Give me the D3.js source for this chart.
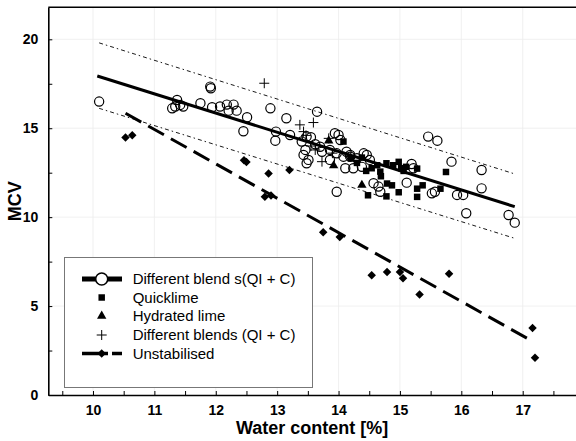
<!DOCTYPE html>
<html>
<head>
<meta charset="utf-8">
<script src="https://cdn.jsdelivr.net/npm/d3@7"></script>
<style>
  body { margin: 0; background: #fff; }
  svg { display: block; font-family: "Liberation Sans", Arial, sans-serif; }
</style>
</head>
<body>
<main></main>
<script>
// open circles: Different blend s(QI + C)
const blendCircles = [
  [10.1, 16.5],
  [11.29, 16.12], [11.34, 16.22], [11.37, 16.59], [11.42, 16.31], [11.47, 16.22],
  [11.75, 16.41], [11.91, 17.34], [11.92, 17.25], [11.94, 16.18], [12.07, 16.22],
  [12.18, 16.33], [12.29, 16.33], [12.21, 15.99], [12.34, 15.99], [12.51, 15.62],
  [12.45, 14.83], [12.89, 16.12], [13.15, 15.56], [13.65, 15.93], [12.98, 14.81],
  [12.97, 14.3], [13.21, 14.62], [13.4, 14.25], [13.48, 14.53], [13.55, 14.5],
  [13.46, 13.78], [13.43, 13.5], [13.51, 13.22], [13.48, 13.03], [13.73, 13.68],
  [13.7, 13.96], [13.86, 13.22], [13.62, 14.1], [14.0, 14.62], [14.03, 14.34],
  [13.94, 14.72], [14.13, 13.68], [14.19, 13.4], [13.97, 11.43], [13.86, 13.78],
  [13.97, 13.59], [14.08, 13.4], [14.19, 13.5], [14.3, 13.31], [14.41, 13.59],
  [14.51, 13.22], [14.24, 12.75], [14.11, 12.75], [14.38, 12.83], [14.46, 13.5],
  [14.57, 11.91], [14.65, 11.72], [14.68, 11.43], [15.11, 11.94], [15.19, 12.99],
  [15.22, 12.75], [15.46, 14.53], [15.61, 14.3], [15.84, 13.12], [15.52, 11.34],
  [15.57, 11.43], [15.93, 11.25], [16.03, 11.25], [16.33, 12.65], [16.33, 11.62],
  [16.08, 10.22], [16.77, 10.12], [16.87, 9.69]
];

// filled squares: Quicklime
const quicklime = [
  [14.08, 14.25], [14.2, 13.3], [14.3, 13.05], [14.38, 13.35], [14.45, 12.6],
  [14.54, 12.75], [14.63, 12.92], [14.68, 12.56], [14.69, 12.3], [14.78, 13.03],
  [14.89, 12.92], [14.98, 13.11], [15.02, 12.75], [15.1, 12.83], [15.06, 12.6],
  [15.28, 12.73], [15.75, 12.54], [14.48, 11.23], [14.79, 11.89], [14.87, 11.79],
  [14.98, 11.4], [14.78, 11.17], [15.28, 11.6], [15.28, 11.14], [15.37, 11.79],
  [15.66, 11.6]
];

// filled triangles: Hydrated lime
const hydratedLime = [
  [13.84, 14.3], [13.92, 12.9], [14.38, 11.8]
];

// plus signs: Different blends (QI + C)
const blendPlus = [
  [12.79, 17.53], [13.37, 15.19], [13.59, 15.32], [13.43, 14.81], [13.47, 14.6],
  [13.84, 14.43], [13.62, 13.78], [13.73, 13.12], [13.9, 13.6], [13.55, 14.0]
];

// diamonds: Unstabilised
const unstabilised = [
  [10.53, 14.48], [10.64, 14.6], [12.46, 13.2], [12.5, 13.1], [12.86, 12.45],
  [13.2, 12.65], [12.8, 11.15], [12.9, 11.22], [13.75, 9.15], [14.02, 8.88],
  [14.54, 6.74], [14.79, 6.92], [15.0, 6.92], [15.05, 6.56], [15.32, 5.65],
  [15.8, 6.82], [17.16, 3.77], [17.2, 2.1]
];

// fitted lines and prediction band
const fitStabilised = [[10.07, 17.94], [16.87, 10.59]];
const bandUpper = [[10.1, 19.8], [16.87, 12.43]];
const bandLower = [[10.1, 16.12], [16.87, 8.81]];
const fitUnstabilised = [[10.53, 15.84], [17.17, 3.0]];

const xMajor = [10, 11, 12, 13, 14, 15, 16, 17];
const xTicks = [9.5, 10, 10.5, 11, 11.5, 12, 12.5, 13, 13.5, 14, 14.5, 15, 15.5, 16, 16.5, 17, 17.5];
const yMajor = [0, 5, 10, 15, 20];
const yTicks = [0, 2.5, 5, 7.5, 10, 12.5, 15, 17.5, 20];

const legendLabels = [
  'Different blend s(QI + C)',
  'Quicklime',
  'Hydrated lime',
  'Different blends (QI + C)',
  'Unstabilised'
];

function draw_chart() {
  const width = 576;
  const height = 441;
  const left = 48.3, right = 576, top = 7.3, bottom = 395;

  let svg = d3.select('main')
    .append('svg')
    .attr('width', width)
    .attr('height', height);

  const x = d3.scaleLinear().domain([9.272, 17.868]).range([left, right]);
  const y = d3.scaleLinear().domain([0, 21.8]).range([bottom, top]);

  // faint grid
  svg.append('g')
    .selectAll('line')
    .data(xMajor)
    .enter()
    .append('line')
    .attr('x1', function (d) { return x(d); })
    .attr('x2', function (d) { return x(d); })
    .attr('y1', top)
    .attr('y2', bottom)
    .attr('stroke', '#ececec')
    .attr('stroke-width', 0.8);

  svg.append('g')
    .selectAll('line')
    .data(yMajor.slice(1))
    .enter()
    .append('line')
    .attr('x1', left)
    .attr('x2', right)
    .attr('y1', function (d) { return y(d); })
    .attr('y2', function (d) { return y(d); })
    .attr('stroke', '#ececec')
    .attr('stroke-width', 0.8);

  // axes
  let xAxis = svg.append('g')
    .attr('transform', 'translate(0,' + bottom + ')')
    .call(d3.axisBottom(x)
      .tickValues(xTicks)
      .tickSizeInner(-4)
      .tickSizeOuter(0)
      .tickPadding(10)
      .tickFormat(function (d) { return xMajor.indexOf(d) >= 0 ? d : ''; }));

  let yAxis = svg.append('g')
    .attr('transform', 'translate(' + left + ',0)')
    .call(d3.axisLeft(y)
      .tickValues(yTicks)
      .tickSizeInner(-4)
      .tickSizeOuter(0)
      .tickPadding(10)
      .tickFormat(function (d) { return yMajor.indexOf(d) >= 0 ? d : ''; }));

  [xAxis, yAxis].forEach(function (a) {
    a.select('.domain').attr('stroke', '#000').attr('stroke-width', 1.6);
    a.selectAll('.tick line').attr('stroke', '#000').attr('stroke-width', 1);
    a.selectAll('.tick text')
      .attr('fill', '#000')
      .style('font-size', '14px')
      .style('font-weight', 'bold')
      .style('font-family', '"Liberation Sans", Arial, sans-serif');
  });

  // top frame
  svg.append('line')
    .attr('x1', left).attr('x2', right)
    .attr('y1', top).attr('y2', top)
    .attr('stroke', '#000')
    .attr('stroke-width', 1.4);

  // axis titles
  svg.append('text')
    .attr('x', (left + right) / 2)
    .attr('y', 434)
    .attr('text-anchor', 'middle')
    .style('font-size', '18px')
    .style('font-weight', 'bold')
    .text('Water content [%]');

  svg.append('text')
    .attr('transform', 'translate(21,' + ((top + bottom) / 2) + ') rotate(-90)')
    .attr('text-anchor', 'middle')
    .style('font-size', '18px')
    .style('font-weight', 'bold')
    .text('MCV');

  const line = d3.line()
    .x(function (d) { return x(d[0]); })
    .y(function (d) { return y(d[1]); });

  // lines
  [bandUpper, bandLower].forEach(function (b) {
    svg.append('path')
      .datum(b)
      .attr('d', line)
      .attr('fill', 'none')
      .attr('stroke', '#000')
      .attr('stroke-width', 0.9)
      .attr('stroke-dasharray', '4,3,1.5,3');
  });

  svg.append('path')
    .datum(fitStabilised)
    .attr('d', line)
    .attr('fill', 'none')
    .attr('stroke', '#000')
    .attr('stroke-width', 3);

  svg.append('path')
    .datum(fitUnstabilised)
    .attr('d', line)
    .attr('fill', 'none')
    .attr('stroke', '#000')
    .attr('stroke-width', 3)
    .attr('stroke-dasharray', '18,8');

  // markers
  svg.append('g')
    .selectAll('circle')
    .data(blendCircles)
    .enter()
    .append('circle')
    .attr('cx', function (d) { return x(d[0]); })
    .attr('cy', function (d) { return y(d[1]); })
    .attr('r', 4.6)
    .attr('fill', 'none')
    .attr('stroke', '#000')
    .attr('stroke-width', 1.2);

  const square = d3.symbol().type(d3.symbolSquare).size(42);
  const triangle = d3.symbol().type(d3.symbolTriangle).size(38);
  const diamond = d3.symbol().type(d3.symbolSquare).size(36);
  const plus = 'M-5,0H5M0,-5V5';

  svg.append('g')
    .selectAll('path')
    .data(quicklime)
    .enter()
    .append('path')
    .attr('d', square)
    .attr('transform', function (d) {
      return 'translate(' + x(d[0]) + ',' + y(d[1]) + ')';
    })
    .attr('fill', '#000');

  svg.append('g')
    .selectAll('path')
    .data(hydratedLime)
    .enter()
    .append('path')
    .attr('d', triangle)
    .attr('transform', function (d) {
      return 'translate(' + x(d[0]) + ',' + y(d[1]) + ')';
    })
    .attr('fill', '#000');

  svg.append('g')
    .selectAll('path')
    .data(blendPlus)
    .enter()
    .append('path')
    .attr('d', plus)
    .attr('transform', function (d) {
      return 'translate(' + x(d[0]) + ',' + y(d[1]) + ')';
    })
    .attr('fill', 'none')
    .attr('stroke', '#000')
    .attr('stroke-width', 1);

  svg.append('g')
    .selectAll('path')
    .data(unstabilised)
    .enter()
    .append('path')
    .attr('d', diamond)
    .attr('transform', function (d) {
      return 'translate(' + x(d[0]) + ',' + y(d[1]) + ') rotate(45)';
    })
    .attr('fill', '#000');

  // legend
  let legend = svg.append('g').attr('transform', 'translate(64,257)');
  legend.append('rect')
    .attr('x', 0.5).attr('y', 0.5)
    .attr('width', 248).attr('height', 130)
    .attr('fill', '#fff')
    .attr('stroke', '#777')
    .attr('stroke-width', 1);

  const rowY = [22, 40.5, 59, 78, 96.5];
  const sx = 37.7;

  let rows = legend.selectAll('g.row')
    .data(legendLabels)
    .enter()
    .append('g')
    .attr('class', 'row')
    .attr('transform', function (d, i) { return 'translate(0,' + rowY[i] + ')'; });

  rows.append('text')
    .attr('x', 68.7)
    .attr('y', 0)
    .attr('dy', '0.35em')
    .style('font-size', '15px')
    .text(function (d) { return d; });

  let r0 = d3.select(rows.nodes()[0]);
  r0.append('line')
    .attr('x1', 18).attr('x2', 58)
    .attr('stroke', '#000').attr('stroke-width', 5);
  r0.append('circle')
    .attr('cx', sx).attr('r', 6)
    .attr('fill', '#fff').attr('stroke', '#000').attr('stroke-width', 1.5);

  d3.select(rows.nodes()[1]).append('path')
    .attr('d', square).attr('transform', 'translate(' + sx + ',0)').attr('fill', '#000');
  d3.select(rows.nodes()[2]).append('path')
    .attr('d', triangle).attr('transform', 'translate(' + sx + ',0)').attr('fill', '#000');
  d3.select(rows.nodes()[3]).append('path')
    .attr('d', plus).attr('transform', 'translate(' + sx + ',0)')
    .attr('stroke', '#000').attr('stroke-width', 1);

  let r4 = d3.select(rows.nodes()[4]);
  r4.append('line')
    .attr('x1', 18).attr('x2', 58)
    .attr('stroke', '#000').attr('stroke-width', 3.5)
    .attr('stroke-dasharray', '26,4');
  r4.append('path')
    .attr('d', diamond).attr('transform', 'translate(' + sx + ',0) rotate(45)').attr('fill', '#000');
}

draw_chart();
</script>
</body>
</html>
